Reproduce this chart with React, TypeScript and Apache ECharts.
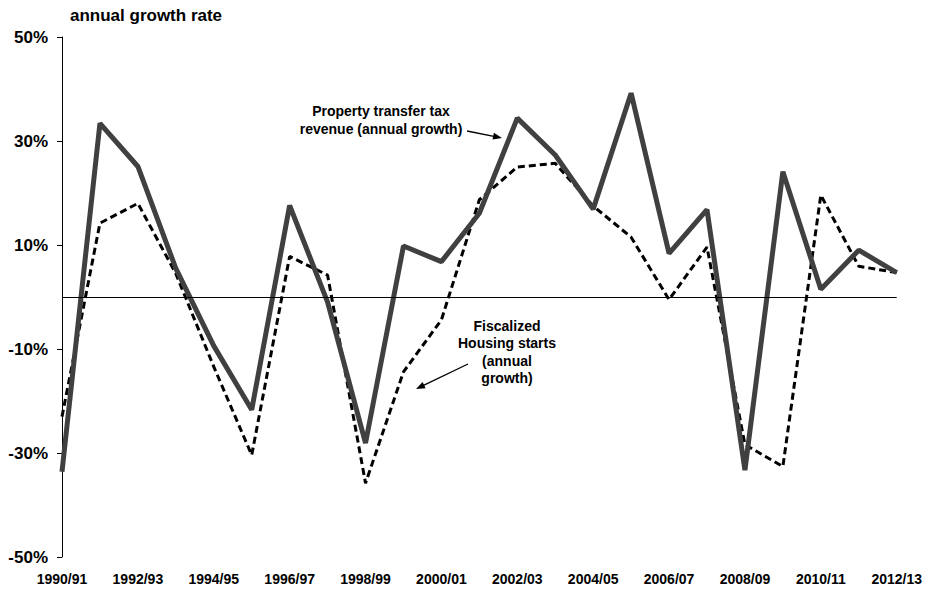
import React, { useEffect, useRef } from "react";
import * as echarts from "echarts";

const categories = [
  "1990/91", "1991/92", "1992/93", "1993/94", "1994/95", "1995/96", "1996/97", "1997/98",
  "1998/99", "1999/00", "2000/01", "2001/02", "2002/03", "2003/04", "2004/05", "2005/06",
  "2006/07", "2007/08", "2008/09", "2009/10", "2010/11", "2011/12", "2012/13",
];

const propertyTransferTax = [
  -33.6, 33.4, 25.1, 5.5, -9.4, -21.7, 17.6, -1.0, -28.1, 9.8, 6.8, 16.1,
  34.4, 27.3, 16.9, 39.2, 8.4, 16.8, -33.3, 24.1, 1.5, 9.0, 4.7,
];

const housingStarts = [
  -23.0, 14.2, 18.0, 4.5, -13.4, -30.4, 7.8, 4.2, -35.8, -14.4, -4.4, 18.7,
  25.0, 25.7, 17.5, 11.5, -0.5, 9.6, -28.4, -32.6, 19.6, 5.9, 4.7,
];

const FONT = "Liberation Sans, Arial, sans-serif";

export default function App() {
  const ref = useRef<HTMLDivElement>(null);

  useEffect(() => {
    if (!ref.current) return;
    const chart = echarts.init(ref.current, null, { renderer: "svg" });
    chart.setOption({
      animation: false,
      backgroundColor: "#ffffff",
      grid: { left: 62, right: 28, top: 37, bottom: 33, containLabel: false },
      xAxis: {
        type: "category",
        data: categories,
        boundaryGap: false,
        axisLine: { show: false },
        axisTick: { show: false },
        splitLine: { show: false },
        axisLabel: {
          interval: 1,
          margin: 15,
          color: "#000",
          fontFamily: FONT,
          fontWeight: "bold",
          fontSize: 14,
        },
      },
      yAxis: {
        type: "value",
        min: -50,
        max: 50,
        interval: 20,
        splitLine: { show: false },
        axisLine: { show: true, lineStyle: { color: "#000", width: 1 } },
        axisTick: { show: true, length: 5, lineStyle: { color: "#000" } },
        axisLabel: {
          formatter: "{value}%",
          margin: 14,
          color: "#000",
          fontFamily: FONT,
          fontWeight: "bold",
          fontSize: 17,
        },
      },
      series: [
        {
          name: "Fiscalized Housing starts (annual growth)",
          type: "line",
          data: housingStarts,
          symbol: "none",
          lineStyle: { color: "#000", width: 3, type: [7, 4] },
          z: 2,
          markLine: {
            silent: true,
            symbol: "none",
            label: { show: false },
            lineStyle: { color: "#000", width: 1, type: "solid" },
            data: [{ yAxis: 0 }],
          },
        },
        {
          name: "Property transfer tax revenue (annual growth)",
          type: "line",
          data: propertyTransferTax,
          symbol: "none",
          lineStyle: { color: "#404040", width: 5 },
          z: 3,
        },
      ],
      graphic: [
        {
          type: "text",
          left: 70,
          top: 7,
          style: {
            text: "annual growth rate",
            fill: "#000",
            font: `bold 17px ${FONT}`,
          },
        },
        {
          type: "text",
          x: 381,
          y: 120,
          style: {
            text: "Property transfer tax\nrevenue (annual growth)",
            fill: "#000",
            font: `bold 14px ${FONT}`,
            align: "center",
            verticalAlign: "middle",
            lineHeight: 18,
          },
        },
        {
          type: "line",
          shape: { x1: 467, y1: 131, x2: 495, y2: 136.6 },
          style: { stroke: "#000", lineWidth: 1.3 },
        },
        {
          type: "polygon",
          shape: { points: [[502, 138], [492.5, 139.6], [493.9, 132.8]] },
          style: { fill: "#000" },
        },
        {
          type: "text",
          x: 507,
          y: 352,
          style: {
            text: "Fiscalized\nHousing starts\n(annual\ngrowth)",
            fill: "#000",
            font: `bold 14px ${FONT}`,
            align: "center",
            verticalAlign: "middle",
            lineHeight: 17.5,
          },
        },
        {
          type: "line",
          shape: { x1: 468, y1: 364, x2: 423, y2: 385.6 },
          style: { stroke: "#000", lineWidth: 1.3 },
        },
        {
          type: "polygon",
          shape: { points: [[416, 389], [422.6, 382], [425.6, 388.3]] },
          style: { fill: "#000" },
        },
      ],
    });
    return () => chart.dispose();
  }, []);

  return (
    <div
      ref={ref}
      style={{ position: "absolute", left: 0, top: 0, width: 925, height: 590 }}
    />
  );
}
